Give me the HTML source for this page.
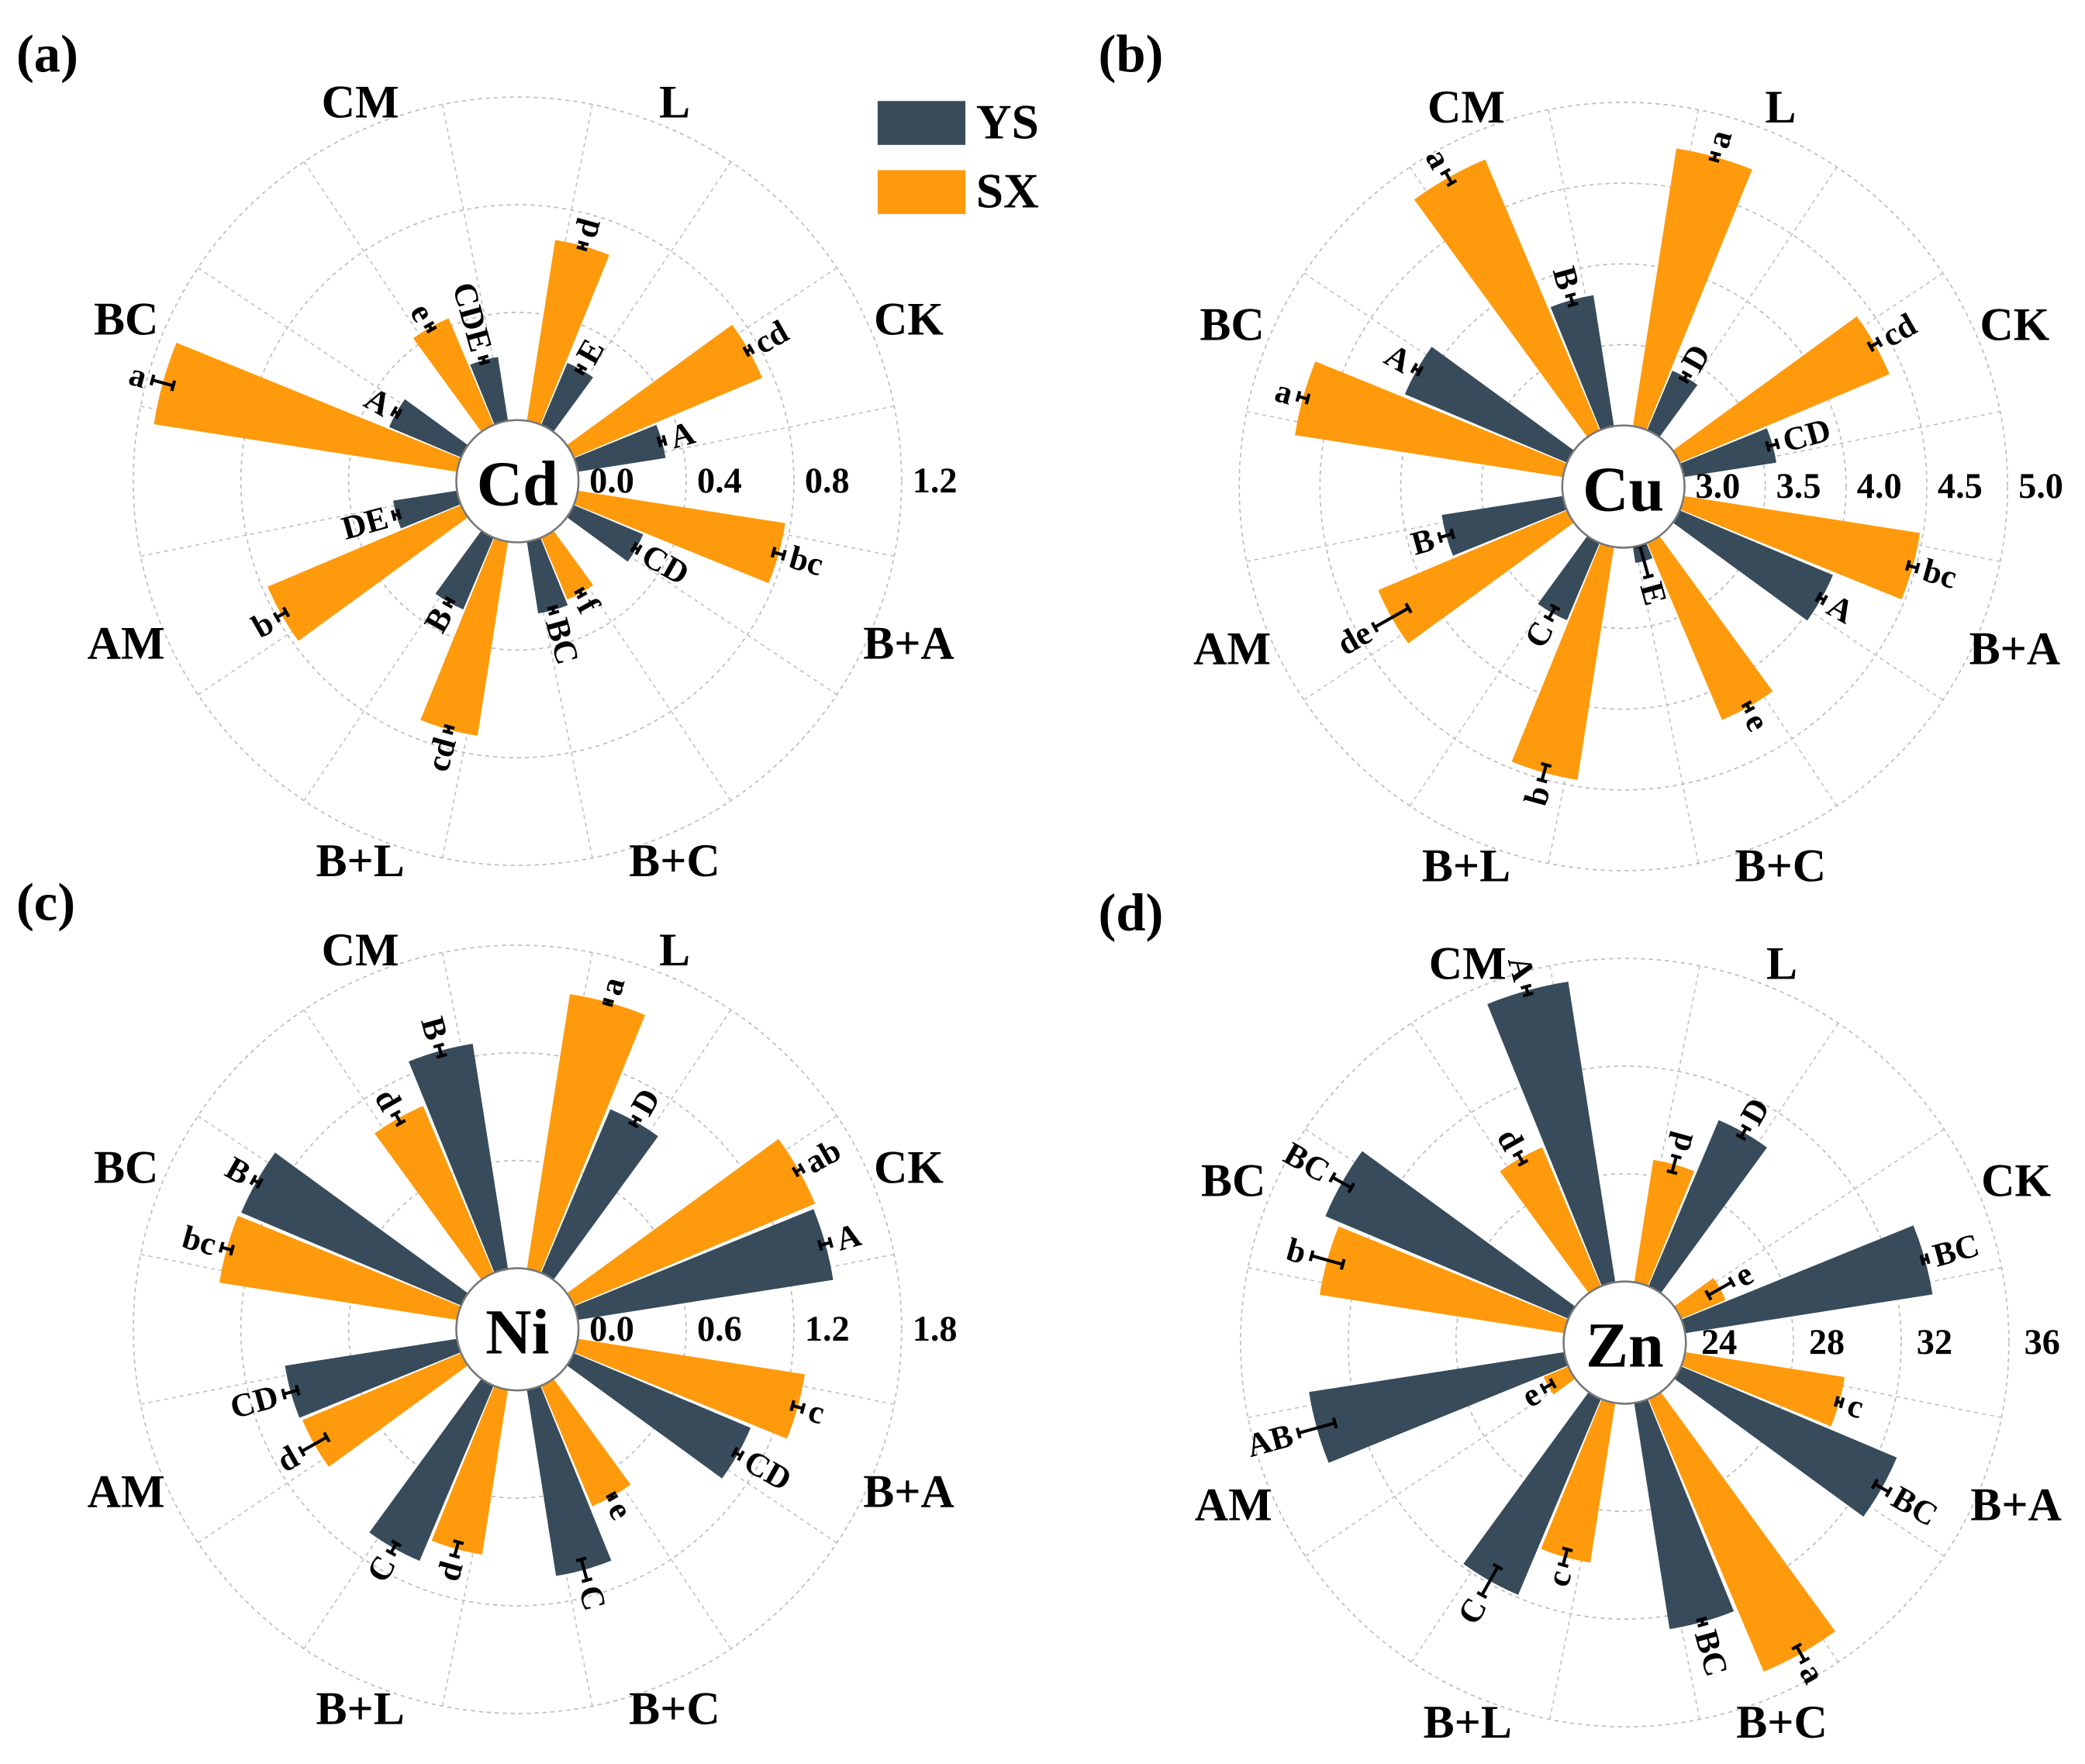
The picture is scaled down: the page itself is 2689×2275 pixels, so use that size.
<!DOCTYPE html>
<html><head><meta charset="utf-8">
<style>
html,body{margin:0;padding:0;background:#fff;}
svg{display:block;}
text{font-family:"Liberation Serif","DejaVu Serif",serif;font-weight:bold;fill:#000;}
</style></head>
<body>
<svg id="fig" width="2689" height="2275" viewBox="0 0 1568 1327" xmlns="http://www.w3.org/2000/svg">
  <g>
    <rect x="660" y="76" width="66" height="33" fill="#374b5b"/>
    <text x="734" y="104" font-size="37">YS</text>
    <rect x="660" y="128" width="66" height="33" fill="#fe9a0c"/>
    <text x="734" y="156" font-size="37">SX</text>
  </g>
  <text x="12" y="54" font-size="40">(a)</text>
  <text x="826" y="54" font-size="40">(b)</text>
  <text x="12" y="692" font-size="40">(c)</text>
  <text x="826" y="700" font-size="40">(d)</text>
</svg>
<script>
const categories = ["CK","B+A","B+C","B+L","AM","BC","CM","L"];
// Cd
const cdYS = [0.33,0.28,0.27,0.29,0.24,0.29,0.24,0.25];
const cdSX = [0.76,0.78,0.25,0.73,0.78,1.14,0.43,0.68];
const cdYSerr = [0.01,0.01,0.01,0.01,0.01,0.01,0.01,0.01];
const cdSXerr = [0.01,0.02,0.01,0.01,0.02,0.04,0.01,0.01];
const cdYSlbl = ["A","CD","BC","B","DE","A","CDE","E"];
const cdSXlbl = ["cd","bc","f","cd","b","a","e","d"];
const cdTicks = ["0.0","0.4","0.8","1.2"];
// Cu
const cuYS = [3.58,4.03,3.1,3.52,3.76,4.09,3.82,3.40];
const cuSX = [4.41,4.48,4.19,4.46,4.27,4.68,4.82,4.74];
const cuYSerr = [0.03,0.02,0.1,0.04,0.04,0.02,0.03,0.02];
const cuSXerr = [0.03,0.03,0.02,0.05,0.12,0.03,0.04,0.02];
const cuYSlbl = ["CD","A","E","C","B","A","B","D"];
const cuSXlbl = ["cd","bc","e","b","de","a","a","a"];
const cuTicks = ["3.0","3.5","4.0","4.5","5.0"];
// Ni
const niYS = [1.44,1.07,1.05,1.06,0.97,1.33,1.27,0.99];
const niSX = [1.46,1.28,0.73,0.93,0.96,1.34,1.01,1.55];
const niYSerr = [0.03,0.02,0.06,0.03,0.04,0.02,0.03,0.02];
const niSXerr = [0.02,0.03,0.01,0.04,0.08,0.03,0.03,0.01];
const niYSlbl = ["A","CD","C","C","CD","B","B","D"];
const niSXlbl = ["ab","c","e","d","d","bc","d","a"];
const niTicks = ["0.0","0.6","1.2","1.8"];
// Zn
const znYS = [33.3,32.7,32.5,31.9,33.6,33.8,35.3,30.7];
const znSX = [25.8,30.0,35.0,30.0,25.0,33.2,29.6,28.6];
const znYSerr = [0.1,0.3,0.1,0.6,0.7,0.4,0.15,0.2];
const znSXerr = [0.5,0.1,0.3,0.3,0.2,0.6,0.2,0.3];
const znYSlbl = ["BC","BC","BC","C","AB","BC","A","D"];
const znSXlbl = ["e","c","a","c","e","b","d","d"];
const znTicks = ["24","28","32","36"];

const NS = "http://www.w3.org/2000/svg";
const svg = document.getElementById("fig");
const R0 = 46, ROUT = 289;
const YS_COL = "#374b5b", SX_COL = "#fe9a0c";

function mk(tag, attrs, parent) {
  const e = document.createElementNS(NS, tag);
  for (const k in attrs) e.setAttribute(k, attrs[k]);
  parent.appendChild(e);
  return e;
}
function rad(d){return d*Math.PI/180;}

function panel(key, cx, cy, elem, ys, sx, yse, sxe, ysl, sxl, ticks) {
  const g = mk("g", {}, svg);
  
  
  const vmin = parseFloat(ticks[0]), vmax = parseFloat(ticks[ticks.length-1]);
  const rScale = v => R0 + (v - vmin) / (vmax - vmin) * (ROUT - R0);
  const P = (r, a) => [cx + r*Math.cos(rad(a)), cy + r*Math.sin(rad(a))];
  for (let i = 1; i < ticks.length; i++) {
    const c = mk("circle", {cx:cx, cy:cy, r:rScale(parseFloat(ticks[i])), fill:"none", stroke:"#bdbdbd", "stroke-width":1, "stroke-dasharray":"3,3"}, g);
    
    
  }
  for (let k = 0; k < 16; k++) {
    const a = 11.25 + 22.5*k;
    const p1 = P(R0, a), p2 = P(ROUT, a);
    const l = mk("line", {x1:p1[0], y1:p1[1], x2:p2[0], y2:p2[1], stroke:"#c4c4c4", "stroke-width":1, "stroke-dasharray":"3,3"}, g);
    
    
  }
  function bar(series, v, e, lbl, ac, col, idx) {
    const half = 6.6;
    const r1 = rScale(v);
    const a1 = ac - half, a2 = ac + half;
    const p1 = P(R0-2, a1), p2 = P(r1, a1), p3 = P(r1, a2), p4 = P(R0-2, a2);
    const d = `M${p1[0]},${p1[1]} L${p2[0]},${p2[1]} A${r1},${r1} 0 0 1 ${p3[0]},${p3[1]} L${p4[0]},${p4[1]} Z`;
    const b = mk("path", {d:d, fill:col}, g);
    
    
    const ra = rScale(v - e), rb = rScale(v + e);
    const q1 = P(ra, ac), q2 = P(rb, ac);
    const eb = mk("g", {stroke:"#000", "stroke-width":2.4}, g);
    
    
    mk("line", {x1:q1[0], y1:q1[1], x2:q2[0], y2:q2[1]}, eb);
    const px = -Math.sin(rad(ac))*4, py = Math.cos(rad(ac))*4;
    for (const q of [q1,q2]) mk("line", {x1:q[0]-px, y1:q[1]-py, x2:q[0]+px, y2:q[1]+py}, eb);
    const lp = P(rb + 5, ac);
    const right = Math.cos(rad(ac)) >= 0;
    const rot = right ? ac : ac + 180;
    const t = mk("text", {x:lp[0], y:lp[1], "font-size":25, "text-anchor": right ? "start" : "end", "dominant-baseline":"central", transform:`rotate(${rot} ${lp[0]} ${lp[1]})`}, g);
    t.textContent = lbl;
    
    
  }
  categories.forEach((c, i) => {
    const ac = -22.5 + 45*i;
    bar("sx", sx[i], sxe[i], sxl[i], ac - 7, SX_COL, i);
    bar("ys", ys[i], yse[i], ysl[i], ac + 7, YS_COL, i);
    const rl = 302 + 18*Math.abs(Math.cos(rad(ac)));
    const lp = P(rl, ac);
    const t = mk("text", {x:lp[0], y:lp[1], "font-size":35, "text-anchor":"middle", "dominant-baseline":"central"}, g);
    t.textContent = c;
    
    
  });
  const h = mk("circle", {cx:cx, cy:cy, r:R0, fill:"#fff", stroke:"#777", "stroke-width":1.5}, g);
  
  
  const ct = mk("text", {x:cx, y:cy+2, "font-size":48, "text-anchor":"middle", "dominant-baseline":"central"}, g);
  ct.textContent = elem;
  
  
  ticks.forEach(tk => {
    const x = cx + rScale(parseFloat(tk)) + 25;
    const t = mk("text", {x:x, y:cy, "font-size":27, "text-anchor":"middle", "dominant-baseline":"central"}, g);
    t.textContent = tk;
    
    
  });
}
panel("cd", 389, 362, "Cd", cdYS, cdSX, cdYSerr, cdSXerr, cdYSlbl, cdSXlbl, cdTicks);
panel("cu", 1221, 366, "Cu", cuYS, cuSX, cuYSerr, cuSXerr, cuYSlbl, cuSXlbl, cuTicks);
panel("ni", 389, 1000, "Ni", niYS, niSX, niYSerr, niSXerr, niYSlbl, niSXlbl, niTicks);
panel("zn", 1222, 1010, "Zn", znYS, znSX, znYSerr, znSXerr, znYSlbl, znSXlbl, znTicks);
</script>
</body></html>
